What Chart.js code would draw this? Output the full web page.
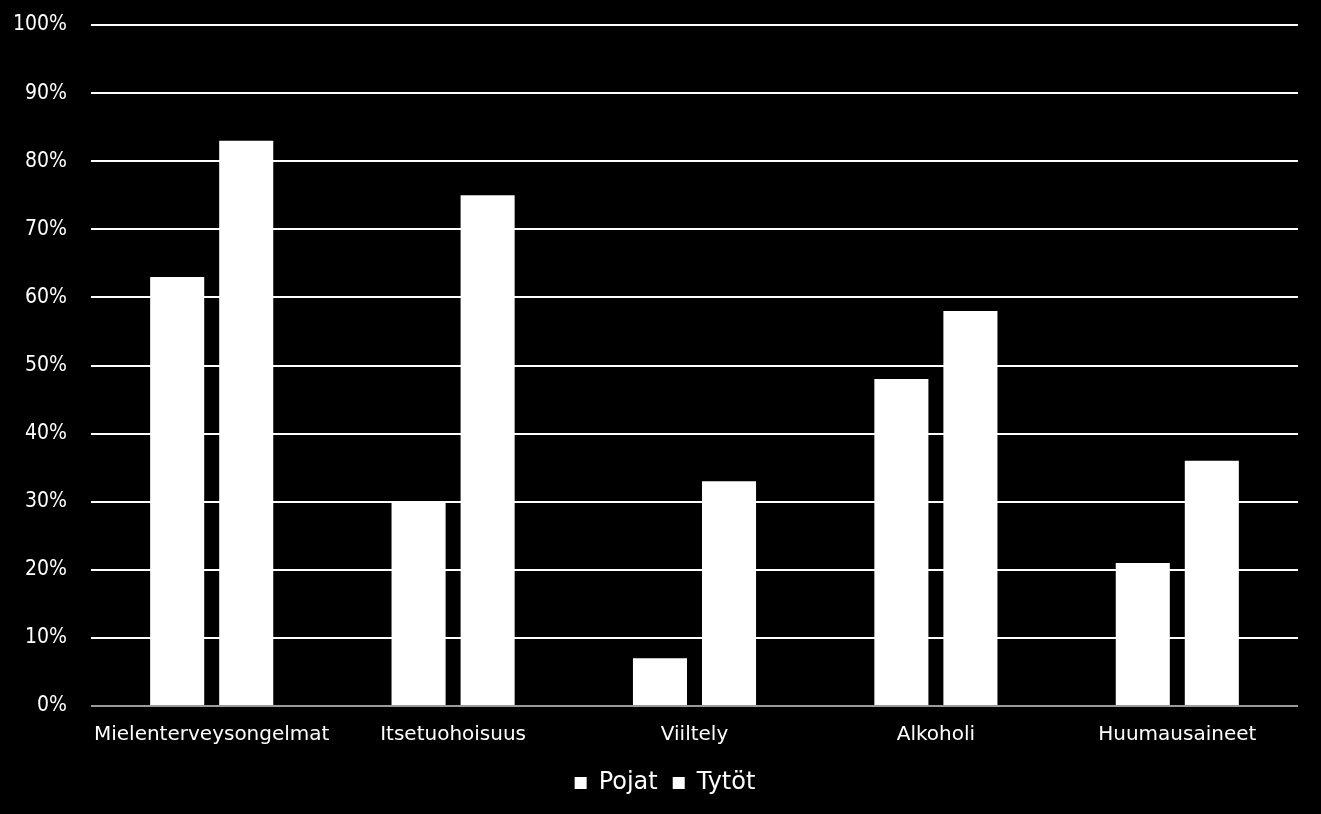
<!DOCTYPE html>
<html>
<head>
<meta charset="utf-8">
<script src="https://cdn.jsdelivr.net/npm/chart.js@4"></script>
<style>
html,body{margin:0;padding:0;background:#000;}
#wrap{width:1321px;height:814px;}
</style>
</head>
<body>
<div id="wrap"><canvas id="c" width="1321" height="814"></canvas></div>
<script>
const categories = ["Mielenterveysongelmat", "Itsetuohoisuus", "Viiltely", "Alkoholi", "Huumausaineet"];
const pojat = [63, 30, 7, 48, 21];
const tytot = [83, 75, 33, 58, 36];
const seriesNames = ["Pojat", "Tytöt"];
const yTicks = [0, 10, 20, 30, 40, 50, 60, 70, 80, 90, 100];

Chart.defaults.color = '#fff';
Chart.defaults.font.family = '"DejaVu Sans", sans-serif';

const legendShift = {
  id: 'legendShift',
  afterLayout(chart) {
    if (chart.legend) { chart.legend.left += 16; chart.legend.right += 16; }
  }
};

new Chart(document.getElementById('c'), {
  type: 'bar',
  data: {
    labels: categories,
    datasets: [
      { label: seriesNames[0], data: pojat, backgroundColor: '#fff', borderWidth: 0 },
      { label: seriesNames[1], data: tytot, backgroundColor: '#fff', borderWidth: 0 }
    ]
  },
  plugins: [legendShift],
  options: {
    responsive: false,
    animation: false,
    devicePixelRatio: 1,
    categoryPercentage: 0.572,
    barPercentage: 0.783,
    layout: { padding: { top: 25, right: 23, left: 0, bottom: 9 } },
    plugins: {
      tooltip: { enabled: false },
      legend: {
        position: 'bottom',
        labels: {
          color: '#fff',
          boxWidth: 12,
          boxHeight: 12,
          padding: 15,
          font: { size: 24, family: '"DejaVu Sans", sans-serif' }
        }
      }
    },
    scales: {
      x: {
        grid: { display: false },
        border: { display: false },
        ticks: {
          color: '#fff',
          maxRotation: 0,
          autoSkip: false,
          padding: 9,
          font: { size: 20, family: '"DejaVu Sans", sans-serif' }
        }
      },
      y: {
        min: 0,
        max: 100,
        afterBuildTicks: (s) => { s.ticks = yTicks.map(v => ({ value: v })); },
        afterFit: (s) => { s.width = 91; s.paddingTop = 0; s.paddingBottom = 0; },
        grid: {
          drawTicks: false,
          lineWidth: 2,
          color: (ctx) => ctx.index === 0 ? '#9a9a9a' : '#ffffff'
        },
        border: { display: false },
        ticks: {
          color: '#fff',
          padding: 24,
          callback: (v) => v + '%',
          font: { size: 21, family: '"Liberation Sans Narrow", "DejaVu Sans Condensed", sans-serif' }
        }
      }
    }
  }
});
</script>
</body>
</html>
